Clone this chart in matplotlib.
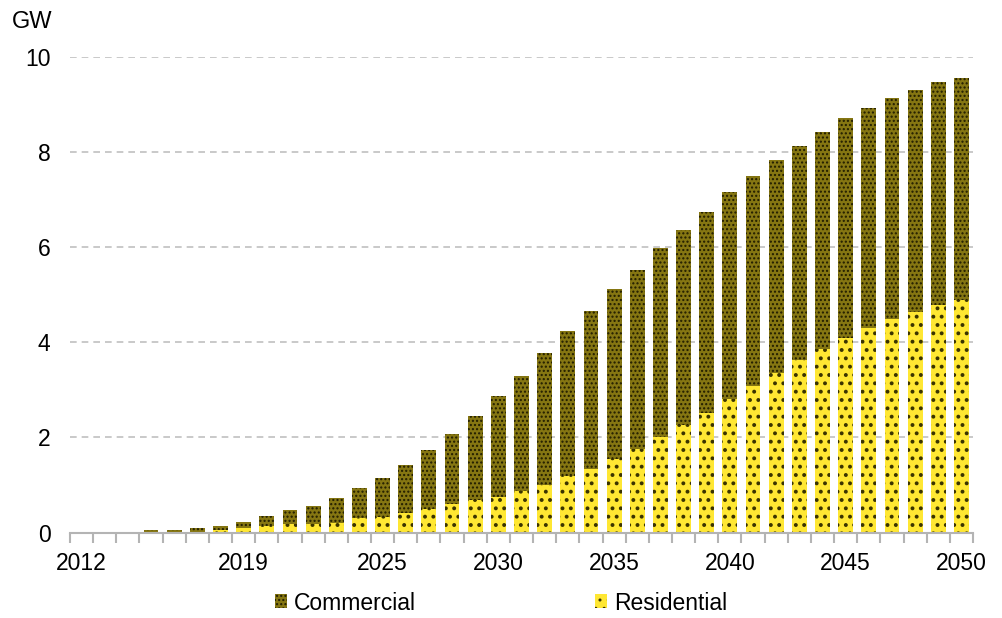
import matplotlib
matplotlib.use("Agg")
import matplotlib.pyplot as plt
import numpy as np

plt.rcParams['font.family'] = ['Liberation Sans', 'DejaVu Sans']
plt.rcParams['hatch.linewidth'] = 1.6

years = list(range(2012, 2051))
residential = [0.0, 0.005, 0.005, 0.01, 0.01, 0.02, 0.05, 0.09, 0.14, 0.17,
               0.18, 0.20, 0.30, 0.33, 0.41, 0.50, 0.59, 0.68, 0.75, 0.88,
               1.00, 1.18, 1.34, 1.55, 1.76, 2.00, 2.26, 2.52, 2.81, 3.08,
               3.36, 3.62, 3.85, 4.10, 4.30, 4.48, 4.64, 4.78, 4.90]
commercial = [0.005, 0.015, 0.015, 0.04, 0.04, 0.07, 0.08, 0.13, 0.20, 0.30,
              0.38, 0.52, 0.63, 0.81, 1.02, 1.23, 1.48, 1.77, 2.13, 2.42,
              2.77, 3.05, 3.32, 3.57, 3.77, 3.99, 4.10, 4.22, 4.35, 4.42,
              4.47, 4.51, 4.58, 4.62, 4.63, 4.66, 4.67, 4.70, 4.66]
label_years = [2012, 2019, 2025, 2030, 2035, 2040, 2045, 2050]
y_ticks = [0, 2, 4, 6, 8, 10]

fig = plt.figure(figsize=(10.02, 6.18), dpi=100)
ax = fig.add_axes([70/1002, 1-532.5/618, (973-70)/1002, (532.5-57)/618])

x = np.arange(len(years))
w = 0.64
res_color = '#ffe733'
com_color = '#857612'

ax.bar(x, residential, width=w, color=res_color, edgecolor='#3a3300',
       hatch='..', linewidth=0, zorder=2, label='Residential')
plt.rcParams['hatch.linewidth'] = 1.0
ax.bar(x, commercial, width=w, bottom=residential, color=com_color,
       edgecolor='#201c00', hatch='....', linewidth=0, zorder=2,
       label='Commercial')

ax.set_xlim(-0.5, len(years) - 0.5)
ax.set_ylim(0, 10)
ax.set_yticks(y_ticks)
ax.set_yticklabels([str(v) for v in y_ticks])
ax.tick_params(axis='y', length=0, pad=14, labelsize=16.5, colors='#000000')

ax.set_xticks([years.index(y) for y in label_years])
ax.set_xticklabels([str(y) for y in label_years])
ax.set_xticks(np.arange(len(years) + 1) - 0.5, minor=True)
ax.tick_params(axis='x', which='major', length=0, pad=14, labelsize=16.5)
ax.tick_params(axis='x', which='minor', length=7, width=1.5,
               color='#b4b4b4', direction='out')

for s in ['left', 'right', 'top']:
    ax.spines[s].set_visible(False)
ax.spines['bottom'].set_color('#b4b4b4')
ax.spines['bottom'].set_linewidth(1.5)

for v in y_ticks[1:]:
    ax.axhline(v, color='#c0c0c0', linestyle=(0, (4, 3)), linewidth=1.2,
               zorder=1)

fig.text(12/1002, 1-28/618, 'GW', fontsize=17, ha='left', va='baseline')

handles, labels = ax.get_legend_handles_labels()
order = [1, 0]
fig.legend([handles[i] for i in order], [labels[i] for i in order],
           loc='center', bbox_to_anchor=(0.5, 1-603/618), ncol=2,
           frameon=False, fontsize=16.5, handlelength=0.55, handleheight=0.55,
           handletextpad=0.3, columnspacing=7.8, borderpad=0, borderaxespad=0)

fig.savefig('out.png', dpi=100, facecolor='white')
